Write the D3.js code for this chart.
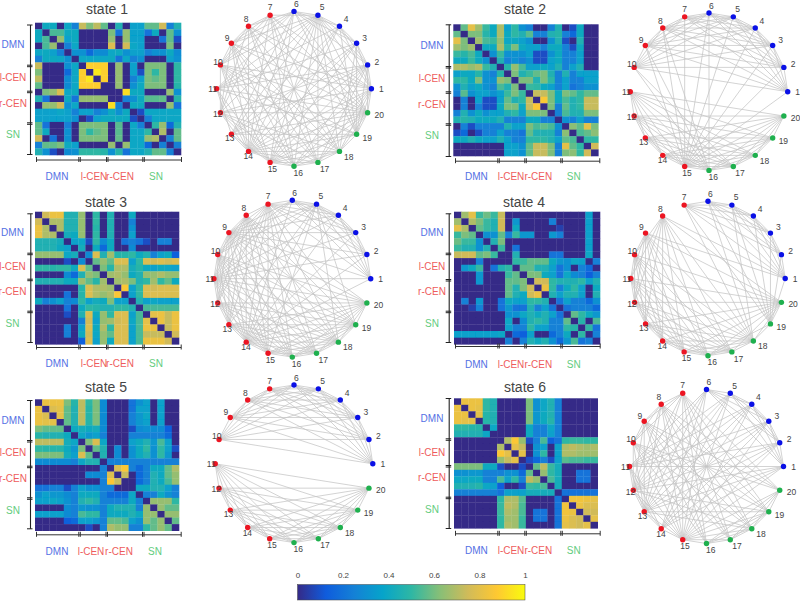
<!DOCTYPE html>
<html><head><meta charset="utf-8">
<style>html,body{margin:0;padding:0;background:#fff}svg{display:block}text{font-family:"Liberation Sans",Arial,sans-serif}</style>
<script src="https://cdn.jsdelivr.net/npm/d3@7"></script></head><body><svg id="c" width="800" height="601"></svg>
<script>
// ---- values: upper triangle of each connectivity matrix, in percent (diagonal is 0)
const state1 = [[30,30,0,28,15,70,55,68,50,0,35,0,25,25,50,50,72,15,35],[45,45,30,30,0,0,0,0,55,12,60,25,25,12,30,0,50,20],[60,25,30,0,0,0,0,60,0,60,25,25,0,0,12,50,5],[15,28,0,0,0,0,75,0,72,28,25,0,0,0,55,0],[20,20,10,18,18,28,30,20,25,25,15,20,20,30,18],[28,28,28,28,30,12,28,15,20,0,0,0,25,20],[88,88,88,0,60,0,25,0,55,55,55,0,40],[95,88,0,60,0,25,5,55,40,55,0,40],[88,0,60,0,15,25,55,50,55,0,40],[0,60,0,20,30,55,55,55,0,38],[0,92,30,30,0,0,0,60,20],[15,20,30,48,48,50,0,38],[30,30,0,0,0,60,12],[5,28,28,28,28,28],[15,28,28,28,28],[40,60,10,35],[65,0,50],[15,50],[15]];
const state2 = [[50,78,62,42,30,65,25,40,20,15,0,0,15,35,0,5,30,0,0],[55,55,38,30,65,30,40,35,48,15,15,35,38,15,10,30,0,0],[62,45,42,60,28,30,25,20,0,0,20,35,5,0,35,0,0],[30,30,65,38,55,30,25,25,15,30,30,15,5,30,0,0],[20,42,20,20,20,25,5,5,20,30,15,15,25,0,0],[35,15,20,15,20,5,5,25,30,15,15,25,0,0],[38,60,45,25,25,30,25,35,15,25,35,0,0],[55,35,42,50,55,35,15,35,15,25,25,25],[55,55,35,55,40,15,25,15,15,25,25],[42,40,30,25,15,25,12,15,20,20],[70,70,55,30,55,50,40,50,50],[85,55,30,45,35,40,70,70],[55,15,50,35,40,70,70],[15,45,35,35,55,55],[20,15,25,15,15],[58,50,78,55],[45,50,58],[40,40],[72]];
const state3 = [[72,80,80,35,35,60,0,40,0,35,0,0,30,0,0,0,0,0,0],[65,65,35,35,60,0,40,0,35,0,0,15,0,0,0,0,0,0],[65,35,35,60,0,38,0,35,0,0,20,0,0,0,0,0,0],[32,30,60,0,40,0,35,0,0,25,0,0,0,0,0,0],[25,28,5,40,18,30,0,12,15,12,5,0,15,15,0],[32,0,30,10,30,0,0,18,0,0,0,0,0,0],[18,75,35,62,38,38,40,30,35,15,25,30,8],[50,60,50,75,75,25,40,75,72,75,72,75],[55,38,65,65,32,38,30,25,30,28,25],[62,65,60,30,35,60,60,65,60,60],[62,65,55,35,40,62,40,50,30],[85,25,40,75,72,75,75,75],[25,40,75,75,75,75,75],[35,25,28,25,25,25],[45,45,45,45,45],[78,80,70,80],[80,70,80],[70,80],[72]];
const state4 = [[62,78,42,52,42,70,0,0,0,0,0,0,0,0,0,0,0,25,0],[65,55,42,35,72,0,22,0,0,0,0,15,0,0,0,0,25,0],[50,42,35,72,0,30,0,0,0,0,0,3,0,0,0,25,0],[20,20,50,15,42,22,22,0,0,22,15,0,0,0,25,0],[35,55,0,0,0,0,0,0,0,0,0,0,0,25,0],[42,0,12,0,0,0,0,0,0,0,0,0,25,0],[0,35,0,0,0,0,12,12,0,0,0,28,0],[40,42,50,50,50,30,22,20,28,25,0,15],[50,50,35,35,25,12,20,0,15,10,0],[55,55,30,25,12,28,18,15,8,15],[72,72,40,35,35,35,40,25,35],[80,40,15,30,40,25,0,30],[35,25,35,35,25,0,35],[12,25,15,15,10,20],[12,15,15,15,10],[50,40,30,22],[38,0,45],[40,12],[15]];
const state5 = [[80,80,80,55,38,68,40,55,18,0,0,0,12,20,25,0,25,0,0],[75,78,50,35,68,38,55,18,0,0,0,12,25,25,0,25,0,0],[78,50,35,68,38,55,18,0,0,0,15,22,28,0,25,0,0],[50,35,68,38,55,18,0,0,0,15,22,25,0,25,0,0],[30,32,30,32,18,0,0,0,5,18,20,18,18,8,0],[28,22,25,15,0,0,0,15,15,15,15,15,10,0],[55,75,28,0,0,0,25,30,35,22,45,25,0],[50,35,0,18,0,20,30,40,20,40,25,5],[35,0,18,0,20,30,35,20,40,22,0],[15,15,15,15,15,15,15,15,15,15],[75,85,15,10,15,30,30,50,65],[70,0,10,15,35,30,50,60],[0,10,15,35,30,45,60],[28,30,35,35,25,15],[15,15,30,20,15],[60,60,60,40],[60,50,50],[60,60],[50]];
const state6 = [[80,80,80,40,35,0,0,0,0,55,20,28,35,15,0,0,0,0,0],[80,78,40,35,0,0,0,0,55,20,28,35,15,0,0,0,0,0],[78,38,35,0,0,0,0,55,22,30,35,15,0,0,0,0,0],[38,35,0,0,0,0,55,22,30,38,15,0,0,0,0,0],[28,0,0,0,0,30,15,15,28,15,0,0,0,0,0],[0,0,0,0,30,15,15,25,15,0,0,0,0,0],[65,85,60,5,15,45,8,12,40,42,42,40,40],[78,70,0,20,25,0,25,65,68,65,62,65],[78,0,20,40,0,25,65,65,62,62,62],[5,10,15,5,25,48,45,45,42,42],[50,68,42,32,0,0,0,0,0],[60,40,32,0,0,12,12,0],[45,32,0,0,12,12,0],[32,0,0,0,0,0],[12,12,12,12,12],[82,82,80,78],[80,75,75],[72,72],[78]];

// ---- graph edges: element k lists the higher-numbered neighbours of node k+1
const edges1 = [[2,3,4,5,7,8,9,10,12,14,15,16,17,18,19,20],[3,4,5,6,11,12,13,14,15,16,17,19,20],[4,5,6,11,13,14,15,18,19],[5,6,11,13,14,15,19],[6,7,9,10,11,12,13,14,15,16,17,18,19,20],[8,9,10,11,13,14,15,19,20],[8,9,10,12,14,16,17,18,20],[9,10,12,14,16,17,18,20],[10,12,14,15,16,17,18,20],[12,14,15,16,17,18,19,20],[13,14,15,19,20],[14,15,16,17,18,20],[14,15,19,20],[16,17,18,19,20],[16,17,18,19,20],[17,18,20],[18,20],[19,20],[20]];
const edges2 = [[2,3,4,5,6,7,8,9,10,15],[3,4,5,6,7,8,9,10,15],[4,5,6,7,8,9,10,15],[5,6,7,8,9,10,15],[6,7,8,9,10,15],[7,8,9,10,15,16],[8,9,10,15],[9,10,15,16],[10,15,16],[16,17],[12,13,14,15,16,17,18,19,20],[13,14,15,16,17,18,19,20],[14,15,16,17,18,19,20],[15,16,17,18,19,20],[16,17,18,19,20],[17,18,19,20],[18,19,20],[19,20],[20]];
const edges3 = [[2,3,4,5,6,7,9,11,14],[3,4,5,6,7,9,11,14],[4,5,6,7,9,11,14],[5,6,7,9,11,14],[6,7,9,10,11,13,14,15,18,19],[7,9,10,11,14],[8,9,10,11,12,13,14,15,16,17,18,19],[9,10,11,12,13,14,15,16,17,18,19,20],[10,11,12,13,14,15,16,17,18,19,20],[11,12,13,14,15,16,17,18,19,20],[12,13,14,15,16,17,18,19,20],[13,14,15,16,17,18,19,20],[14,15,16,17,18,19,20],[15,16,17,18,19,20],[16,17,18,19,20],[17,18,19,20],[18,19,20],[19,20],[20]];
const edges4 = [[2,3,4,5,6,7,8,9,19],[3,4,5,6,7,19],[4,5,6,7,19],[5,6,7,19],[6,7,18,19],[7,18,19],[18,19],[10,11,12,13,14,15,16,17,18,20],[10,11,12,13,14,15,16,17,18,20],[11,12,13,14,15,16,17,18,20],[12,13,14,15,16,17,18,20],[13,14,15,16,17,18,20],[14,15,16,17,18,20],[15,16,17,18,20],[16,17,18,20],[17,18,19,20],[18,20],[19,20],[20]];
const edges5 = [[2,3,4,5,6,7,8,9,10],[3,4,5,6,7,8,9,10],[4,5,6,7,8,9,10],[5,6,7,8,9,10],[6,7,8,9,10],[7,8,9,10],[8,9,10],[9,10],[10],[],[12,13,14,15,16,17,18,19,20],[13,14,15,16,17,18,19,20],[14,15,16,17,18,19,20],[15,16,17,18,19,20],[16,17,18,19,20],[17,18,19,20],[18,19,20],[19,20],[20]];
const edges6 = [[2,3,4,5,6,11,12,13,14,15],[3,4,5,6,11,12,13,14,15],[4,5,6,11,12,13,14,15],[5,6,11,12,13,14,15],[6,11,12,13,14,15],[11,12,13,14,15],[8,9,10,12,13,15,16,17,18,19,20],[9,10,12,13,15,16,17,18,19,20],[10,12,13,15,16,17,18,19,20],[12,13,15,16,17,18,19,20],[12,13,14,15],[13,14,15,18,19],[14,15,18,19],[15],[16,17,18,19,20],[17,18,19,20],[18,19,20],[19,20],[20]];

const nodes = d3.range(1,21);
const groupNames = ["DMN","l-CEN","r-CEN","SN"];
const groupEdges = [0,6,10,15,20];
const stateTitles = ["state 1","state 2","state 3","state 4","state 5","state 6"];
const barTicks = [0,0.2,0.4,0.6,0.8,1];
const matrices = [state1,state2,state3,state4,state5,state6];
const edgeLists = [edges1,edges2,edges3,edges4,edges5,edges6];

// ---- styles and layout
const parula = ["#352a87","#0f5cdd","#1481d6","#06a4ca","#2eb7a4","#87bf77","#d1bb59","#fec832","#f9fb0e"];
const colorDomain = [0,7,15,26,40,57,72,86,100];
const color = d3.scaleLinear().domain(colorDomain).range(parula);
const groupColors = ["#5470e4","#ee5c5c","#ee5c5c","#63cc80"];
const nodeColor = n => n<=6 ? "#0a10e6" : n<=15 ? "#ec1522" : "#1fb04e";
const labelOffset = [[10,0],[9.3,-3.3],[8,-5.7],[6.7,-7],[4.3,-7.7],[2.3,-7.2],[0,-8],[-2.3,-7],[-4.3,-5.7],[-2.3,-3.3],[-4,0],[-2.7,1.3],[-1.7,4],[-.3,5],[2.3,6.3],[4.3,6.7],[6.7,6.7],[9.3,5.3],[10.7,3.3],[11.7,2]];
const panels = [
 {title:[107,9.3],heat:[35,22.7,181,155],ya:[30,24.5,64.7,90.7,122.3,154],xa:[159.5,36,78.3,106,142.3,181],yl:[13,44,77,103,134],xl:[176,57,94,120,156],graph:[294,88.8,77.4]},
 {title:[525,9.3],heat:[453.3,24.3,598.3,156],ya:[448.7,24.3,66,91.3,123.3,156],xa:[160.7,455,497.3,524.3,560.3,599.3],yl:[432,45.3,78.3,104,135],xl:[176.7,476.3,511,538.3,573.7],graph:[709,91.7,78.7]},
 {title:[106,201.7],heat:[35,211.7,179,344.3],ya:[30.3,213.3,252.7,278.7,310.7,342],xa:[347,36,78.3,106,142.3,180.7],yl:[12.5,232.7,266.7,291,323.3],xl:[363.7,57,94,120,156],graph:[292.3,278.7,78.4]},
 {title:[524,201.7],heat:[454,211.7,600,344.3],ya:[448.7,213.3,252.7,279,310.7,342],xa:[346,455,497.3,524.3,560.3,599.7],yl:[432,232.7,266.7,291,323.3],xl:[364,476.3,511,538.3,573.7],graph:[708,278.5,77.2]},
 {title:[106,386.7],heat:[35,399.3,179,530.7],ya:[30,400,440,465.7,497.3,528.3],xa:[534.3,36,78.3,105.5,142,180.7],yl:[13,420,452.7,478.7,510],xl:[551,57,91,119,155],graph:[294,463.8,78.8]},
 {title:[525,386.7],heat:[454,398.3,597.7,528.3],ya:[448.7,398,438.3,465,496.7,528],xa:[533.3,455,497.3,524.3,560.3,599.7],yl:[432,418.7,452.7,477.7,509],xl:[550,476.3,511,538.3,573.7],graph:[706.5,466.5,77]}
];

const svg = d3.select("#c");
const filt = svg.append("defs").append("filter").attr("id","soft").attr("x","-2%").attr("y","-2%").attr("width","104%").attr("height","104%");
filt.append("feGaussianBlur").attr("stdDeviation",0.55);
function full(tri){ const m = nodes.map(()=>nodes.map(()=>0));
  tri.forEach((row,i)=>row.forEach((v,k)=>{ m[i][i+1+k]=v; m[i+1+k][i]=v; })); return m; }

panels.forEach((p,idx)=>{
  const g = svg.append("g");
  g.append("text").attr("x",p.title[0]).attr("y",p.title[1]).attr("text-anchor","middle").attr("dominant-baseline","central")
   .attr("font-size",14).attr("fill","#454545").text(stateTitles[idx]);
  // heat map
  const x = d3.scaleBand().domain(nodes).range([p.heat[0],p.heat[2]]);
  const y = d3.scaleBand().domain(nodes).range([p.heat[1],p.heat[3]]);
  const cells = full(matrices[idx]).flatMap((r,i)=>r.map((v,j)=>({i:i+1,j:j+1,v})));
  g.append("g").attr("filter","url(#soft)").selectAll("rect").data(cells).join("rect")
   .attr("x",d=>x(d.j)).attr("y",d=>y(d.i)).attr("width",x.bandwidth()+.3).attr("height",y.bandwidth()+.3)
   .attr("fill",d=>color(d.v));
  // group brackets
  const yB = d3.scaleLinear().domain(groupEdges).range(p.ya.slice(1));
  const xB = d3.scaleLinear().domain(groupEdges).range(p.xa.slice(1));
  const ya = g.append("g").attr("transform",`translate(${p.ya[0]},0)`).call(d3.axisLeft(yB).tickValues(groupEdges).tickFormat("").tickSizeOuter(0));
  const xa = g.append("g").attr("transform",`translate(0,${p.xa[0]})`).call(d3.axisBottom(xB).tickValues(groupEdges).tickFormat("").tickSizeOuter(0));
  ya.selectAll(".domain").attr("stroke","#222").attr("stroke-width",1.1);
  xa.selectAll(".domain").attr("stroke","#333").attr("stroke-width",1);
  ya.selectAll(".tick line").attr("x1",-3).attr("x2",2.5).attr("stroke","#222");
  xa.selectAll(".tick line").attr("y1",-2.5).attr("y2",2.5).attr("stroke","#333");
  ya.selectAll(".tick").filter(d=>d>0&&d<20).append("line").attr("x1",-3).attr("x2",2.5).attr("y1",1.5).attr("y2",1.5).attr("stroke","#222");
  xa.selectAll(".tick").filter(d=>d>0&&d<20).append("line").attr("y1",-2.5).attr("y2",2.5).attr("x1",1.5).attr("x2",1.5).attr("stroke","#333");
  // group names
  groupNames.forEach((name,k)=>{
    g.append("text").attr("x",p.yl[0]).attr("y",p.yl[k+1]).attr("text-anchor","middle").attr("dominant-baseline","central")
     .attr("font-size",10).attr("fill",groupColors[k]).text(name);
    g.append("text").attr("x",p.xl[k+1]).attr("y",p.xl[0]).attr("text-anchor","middle").attr("dominant-baseline","central")
     .attr("font-size",10).attr("fill",groupColors[k]).text(name);
  });
  // circular graph
  const [cx,cy,R] = p.graph;
  const ang = d3.scaleLinear().domain([1,21]).range([0,2*Math.PI]);
  const px = n=>cx+R*Math.cos(ang(n)), py = n=>cy-R*Math.sin(ang(n));
  const links = edgeLists[idx].flatMap((tos,k)=>tos.map(t=>[k+1,t]));
  g.append("g").selectAll("line").data(links).join("line")
   .attr("x1",d=>px(d[0])).attr("y1",d=>py(d[0])).attr("x2",d=>px(d[1])).attr("y2",d=>py(d[1]))
   .attr("stroke","#c4c4c4").attr("stroke-width",.75);
  g.append("g").selectAll("circle").data(nodes).join("circle")
   .attr("cx",px).attr("cy",py).attr("r",2.7).attr("fill",nodeColor);
  g.append("g").selectAll("text").data(nodes).join("text")
   .attr("x",n=>px(n)+labelOffset[n-1][0]).attr("y",n=>py(n)+labelOffset[n-1][1])
   .attr("text-anchor","middle").attr("dominant-baseline","central").attr("font-size",8.5).attr("fill","#444").text(n=>n);
});

// colour bar
const bar = d3.scaleLinear().domain([0,1]).range([297.5,525]);
const defs = svg.append("defs").append("linearGradient").attr("id","parula");
parula.forEach((c,i)=>defs.append("stop").attr("offset",i/8).attr("stop-color",c));
svg.append("rect").attr("x",bar(0)).attr("y",584.5).attr("width",bar(1)-bar(0)).attr("height",15.5)
   .attr("fill","url(#parula)").attr("stroke","#444").attr("stroke-width",.5);
const ax = svg.append("g").attr("transform","translate(0,581)").call(d3.axisTop(bar).tickValues(barTicks).tickFormat(d3.format("~g")).tickSize(0));
ax.select(".domain").remove();
ax.selectAll("text").attr("font-size",8).attr("fill","#444").attr("font-family","Liberation Sans");
</script></body></html>
